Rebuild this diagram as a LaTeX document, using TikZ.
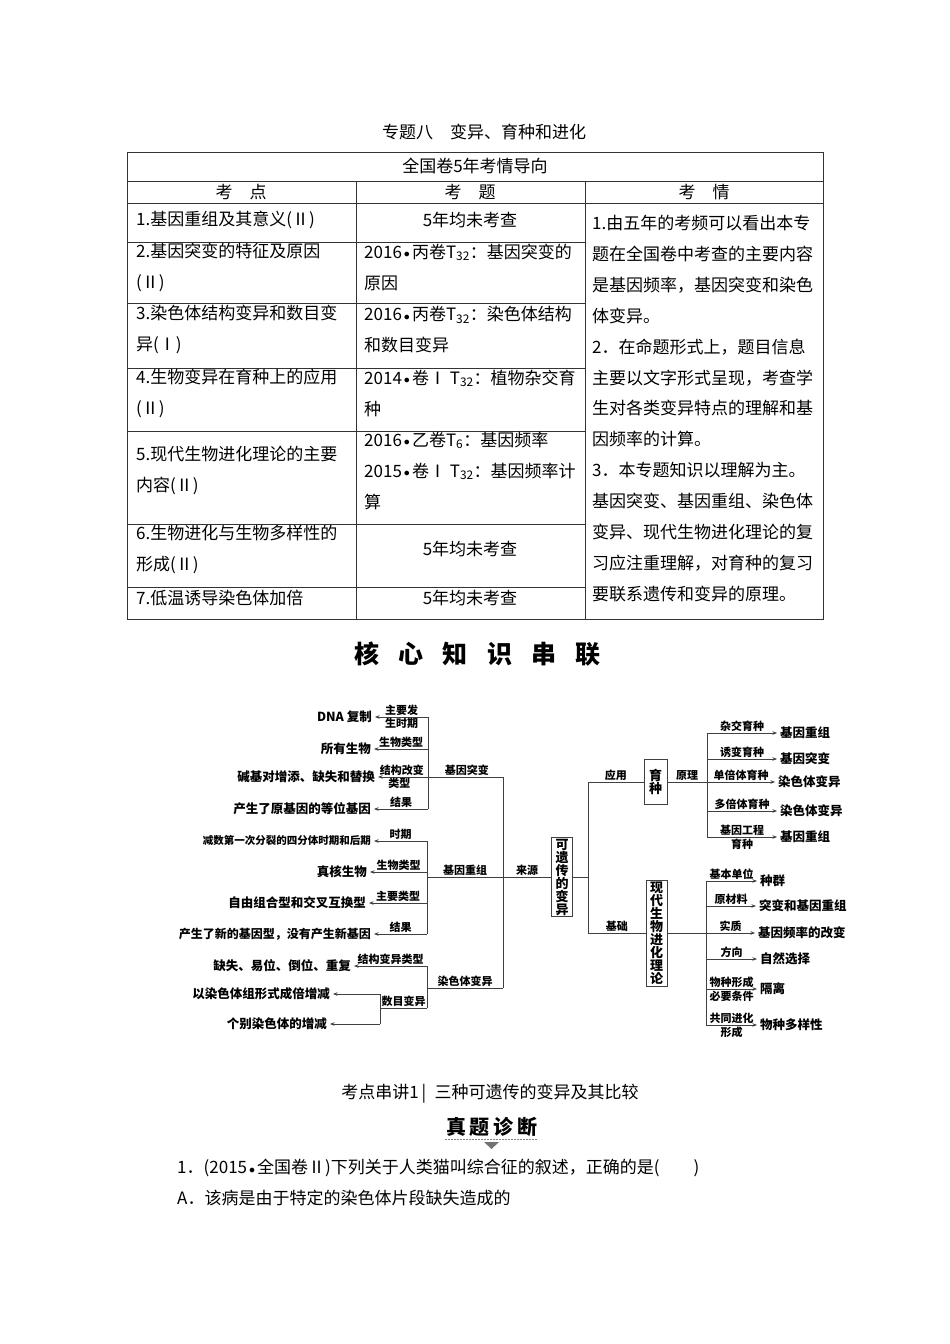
\documentclass[tikz,border=0pt]{standalone}
\usepackage{fontspec}
\setmainfont{Noto Sans CJK SC}
\usetikzlibrary{arrows.meta,positioning}
\newcommand{\tsub}[1]{\textsubscript{#1}}
\newcommand{\dt}{\hspace{0.12em}\raisebox{0.05ex}{$\scriptstyle\bullet$}\hspace{0.12em}}

\begin{document}
\begin{tikzpicture}[x=1pt,y=-1pt,
  grid/.style={draw=black!80,line width=0.8pt},
  cell/.style={anchor=west,inner sep=0pt,align=left,font=\fontsize{17}{31}\selectfont},
  ctr/.style={inner sep=0pt,font=\fontsize{17}{31}\selectfont},
  link/.style={draw=black!75,line width=0.7pt},
  arr/.style={link,-{Stealth[length=4.5pt,width=3.5pt]}},
  leaf/.style={inner sep=3pt,font=\fontsize{12.5}{12.5}\selectfont\bfseries},
  tag/.style={inner sep=1.2pt,font=\fontsize{11}{11}\selectfont\bfseries},
  vbox/.style={draw=black!75,line width=0.7pt,inner xsep=4pt,inner ysep=1.5pt,align=center,font=\fontsize{13}{13}\selectfont\bfseries},
  bigt/.style={inner sep=0pt,font=\fontsize{25}{25}\selectfont\bfseries}]
\useasboundingbox (0,0) rectangle (950,1344);

% table
\node[ctr] (title) at (484,132) {专题八\quad 变异、育种和进化};
\draw[grid] (127,152) rectangle (823,619);
\draw[grid] (127,181) -- (823,181) (127,203) -- (823,203);
\draw[grid] (356,181) -- (356,619) (585,181) -- (585,619);
\foreach \y in {242,303,368,431,524,587}
  \draw[grid] (127,\y) -- (585,\y);
\node[ctr] (head) at (475,166) {全国卷5年考情导向};
\node[ctr] (hpt) at (241,192) {考\quad 点};
\node[ctr] (hq) at (470,192) {考\quad 题};
\node[ctr] (hs) at (704,192) {考\quad 情};

\node[cell] (p1) at (136,220) {1.基因重组及其意义(Ⅱ)};
\node[cell] (p2) at (136,267) {2.基因突变的特征及原因\\(Ⅱ)};
\node[cell] (p3) at (136,329.5) {3.染色体结构变异和数目变\\异(Ⅰ)};
\node[cell] (p4) at (136,393) {4.生物变异在育种上的应用\\(Ⅱ)};
\node[cell] (p5) at (136,470.5) {5.现代生物进化理论的主要\\内容(Ⅱ)};
\node[cell] (p6) at (136,549.5) {6.生物进化与生物多样性的\\形成(Ⅱ)};
\node[cell] (p7) at (136,598) {7.低温诱导染色体加倍};

\node[ctr] (q1) at (470,220) {5年均未考查};
\node[cell] (q2) at (364,267) {2016\dt 丙卷T\tsub{32}：基因突变的\\原因};
\node[cell] (q3) at (364,329.5) {2016\dt 丙卷T\tsub{32}：染色体结构\\和数目变异};
\node[cell] (q4) at (364,393) {2014\dt 卷Ⅰ T\tsub{32}：植物杂交育\\种};
\node[cell] (q5) at (364,470.5) {2016\dt 乙卷T\tsub{6}：基因频率\\2015\dt 卷Ⅰ T\tsub{32}：基因频率计\\算};
\node[ctr] (q6) at (470,549.5) {5年均未考查};
\node[ctr] (q7) at (470,598) {5年均未考查};

\node[cell,font=\fontsize{17}{30.9}\selectfont] (notes) at (592,408.5)
  {1.由五年的考频可以看出本专\\题在全国卷中考查的主要内容\\是基因频率，基因突变和染色\\体变异。\\2．在命题形式上，题目信息\\主要以文字形式呈现，考查学\\生对各类变异特点的理解和基\\因频率的计算。\\3．本专题知识以理解为主。\\基因突变、基因重组、染色体\\变异、现代生物进化理论的复\\习应注重理解，对育种的复习\\要联系遗传和变异的原理。};

% heading
\foreach \c [count=\i from 0] in {核,心,知,识,串,联}
  \node[bigt] (k\i) at ({367+44.2*\i},654) {\c};

% mind map: sources
\coordinate (mutbus) at (428,0);
\coordinate (srcbus) at (503,0);
\coordinate (recbus) at (427,0);
\coordinate (chrbus) at (427,0);
\coordinate (numbus) at (380,0);
\node[leaf,anchor=east] (dna) at (375,717) {DNA 复制};
\node[leaf,anchor=east] (allorg) at (374,749) {所有生物};
\node[leaf,anchor=east] (base) at (378,777) {碱基对增添、缺失和替换};
\node[leaf,anchor=east] (allele) at (374,809) {产生了原基因的等位基因};
\draw[link] (dna.east -| mutbus) -- (allele.east -| mutbus);
\draw[arr] (dna.east -| mutbus) -- node[tag,above]{主要发} node[tag,below]{生时期} (dna.east);
\draw[arr] (allorg.east -| mutbus) -- node[tag,above]{生物类型} (allorg.east);
\draw[arr] (base.east -| srcbus) -- node[tag,above,pos=0.29]{基因突变}
  node[tag,above,pos=0.81]{结构改变} node[tag,below,pos=0.83]{类型} (base.east);
\draw[arr] (allele.east -| mutbus) -- node[tag,above]{结果} (allele.east);

\node[leaf,anchor=east,font=\fontsize{10.5}{11}\selectfont\bfseries] (meio) at (374,841) {减数第一次分裂的四分体时期和后期};
\node[leaf,anchor=east] (euk) at (370,872) {真核生物};
\node[leaf,anchor=east] (free) at (369,903) {自由组合型和交叉互换型};
\node[leaf,anchor=east,font=\fontsize{12}{12}\selectfont\bfseries] (newgt) at (374,934) {产生了新的基因型，没有产生新基因};
\draw[link] (meio.east -| recbus) -- (newgt.east -| recbus);
\draw[arr] (meio.east -| recbus) -- node[tag,above]{时期} (meio.east);
\draw[arr] (euk.east -| recbus) -- node[tag,above]{生物类型} (euk.east);
\draw[arr] (free.east -| recbus) -- node[tag,above]{主要类型} (free.east);
\draw[arr] (newgt.east -| recbus) -- node[tag,above]{结果} (newgt.east);

\node[leaf,anchor=east] (del) at (354,966) {缺失、易位、倒位、重复};
\node[leaf,anchor=east] (polyp) at (333,994) {以染色体组形式成倍增减};
\node[leaf,anchor=east] (aneu) at (330,1024) {个别染色体的增减};
\coordinate (chrjoin) at (427,988);
\coordinate (numjoin) at (427,1008);
\draw[arr] (del.east -| chrbus) -- node[tag,above]{结构变异类型} (del.east);
\draw[link] (del.east -| chrbus) -- (numjoin);
\draw[link] (numjoin) -- node[tag,above]{数目变异} (numjoin -| numbus);
\draw[link] (polyp.east -| numbus) -- (aneu.east -| numbus);
\draw[arr] (polyp.east -| numbus) -- (polyp.east);
\draw[arr] (aneu.east -| numbus) -- (aneu.east);
\draw[link] (chrjoin) -- node[tag,above]{染色体变异} (chrjoin -| srcbus);
\draw[link] (base.east -| srcbus) -- (chrjoin -| srcbus);

% centre box
\node[vbox] (heri) at (562,877) {可\\遗\\传\\的\\变\\异};
\coordinate (recjoin) at (427,877);
\draw[link] (recjoin) -- node[tag,above]{基因重组} (recjoin -| srcbus)
  -- node[tag,above]{来源} (heri.west);

% right side
\coordinate (usebus) at (588,0);
\coordinate (brbus) at (707,0);
\coordinate (evbus) at (706,0);
\node[vbox,minimum width=23pt,minimum height=45pt] (breed) at (655.5,782) {育\\种};
\node[vbox] (evo) at (656.5,933) {现\\代\\生\\物\\进\\化\\理\\论};
\draw[link] (heri.east) -- (heri.east -| usebus);
\draw[link] (breed.west -| usebus) -- (evo.west -| usebus);
\draw[link] (breed.west -| usebus) -- node[tag,above]{应用} (breed.west);
\draw[link] (evo.west -| usebus) -- node[tag,above]{基础} (evo.west);

\node[leaf,anchor=west] (hyb) at (777,733) {基因重组};
\node[leaf,anchor=west] (mutb) at (777,759) {基因突变};
\node[leaf,anchor=west] (hap) at (775,782) {染色体变异};
\node[leaf,anchor=west] (polyb) at (777,811) {染色体变异};
\node[leaf,anchor=west] (gen) at (777,837) {基因重组};
\draw[link] (breed.east) -- node[tag,above]{原理} (breed.east -| brbus);
\draw[link] (hyb.west -| brbus) -- (gen.west -| brbus);
\draw[arr] (hyb.west -| brbus) -- node[tag,above]{杂交育种} (hyb.west);
\draw[arr] (mutb.west -| brbus) -- node[tag,above]{诱变育种} (mutb.west);
\draw[arr] (hap.west -| brbus) -- node[tag,above]{单倍体育种} (hap.west);
\draw[arr] (polyb.west -| brbus) -- node[tag,above]{多倍体育种} (polyb.west);
\draw[arr] (gen.west -| brbus) -- node[tag,above]{基因工程} node[tag,below]{育种} (gen.west);

\node[leaf,anchor=west] (pop) at (757,881) {种群};
\node[leaf,anchor=west] (raw) at (756,906) {突变和基因重组};
\node[leaf,anchor=west] (freq) at (755,933) {基因频率的改变};
\node[leaf,anchor=west] (sel) at (757,959) {自然选择};
\node[leaf,anchor=west] (iso) at (757,989) {隔离};
\node[leaf,anchor=west] (div) at (757,1025) {物种多样性};
\draw[link] (evo.east) -- (evo.east -| evbus);
\draw[link] (pop.west -| evbus) -- (div.west -| evbus);
\draw[arr] (pop.west -| evbus) -- node[tag,above]{基本单位} (pop.west);
\draw[arr] (raw.west -| evbus) -- node[tag,above]{原材料} (raw.west);
\draw[arr] (freq.west -| evbus) -- node[tag,above]{实质} (freq.west);
\draw[arr] (sel.west -| evbus) -- node[tag,above]{方向} (sel.west);
\draw[arr] (iso.west -| evbus) -- node[tag,above]{物种形成} node[tag,below]{必要条件} (iso.west);
\draw[arr] (div.west -| evbus) -- node[tag,above]{共同进化} node[tag,below]{形成} (div.west);

% question part
\node[ctr] (sec) at (490,1094) {考点串讲1\,|\enspace 三种可遗传的变异及其比较};
\foreach \c [count=\i from 0] in {真,题,诊,断}
  \node[inner sep=0pt,font=\fontsize{20}{20}\selectfont\bfseries] (d\i) at ({456+23.7*\i},1127) {\c};
\draw[black!50,line width=0.8pt,dash pattern=on 1.5pt off 1.5pt] (445,1139) -- (538,1139);
\fill[black!55] (484,1142) -- (499,1142) -- (491.5,1149) -- cycle;
\node[cell] (quest) at (177,1168) {1．(2015\dt 全国卷Ⅱ)下列关于人类猫叫综合征的叙述，正确的是(\hspace{2em})};
\node[cell] (optA) at (177,1198) {A．该病是由于特定的染色体片段缺失造成的};
\end{tikzpicture}
\end{document}
